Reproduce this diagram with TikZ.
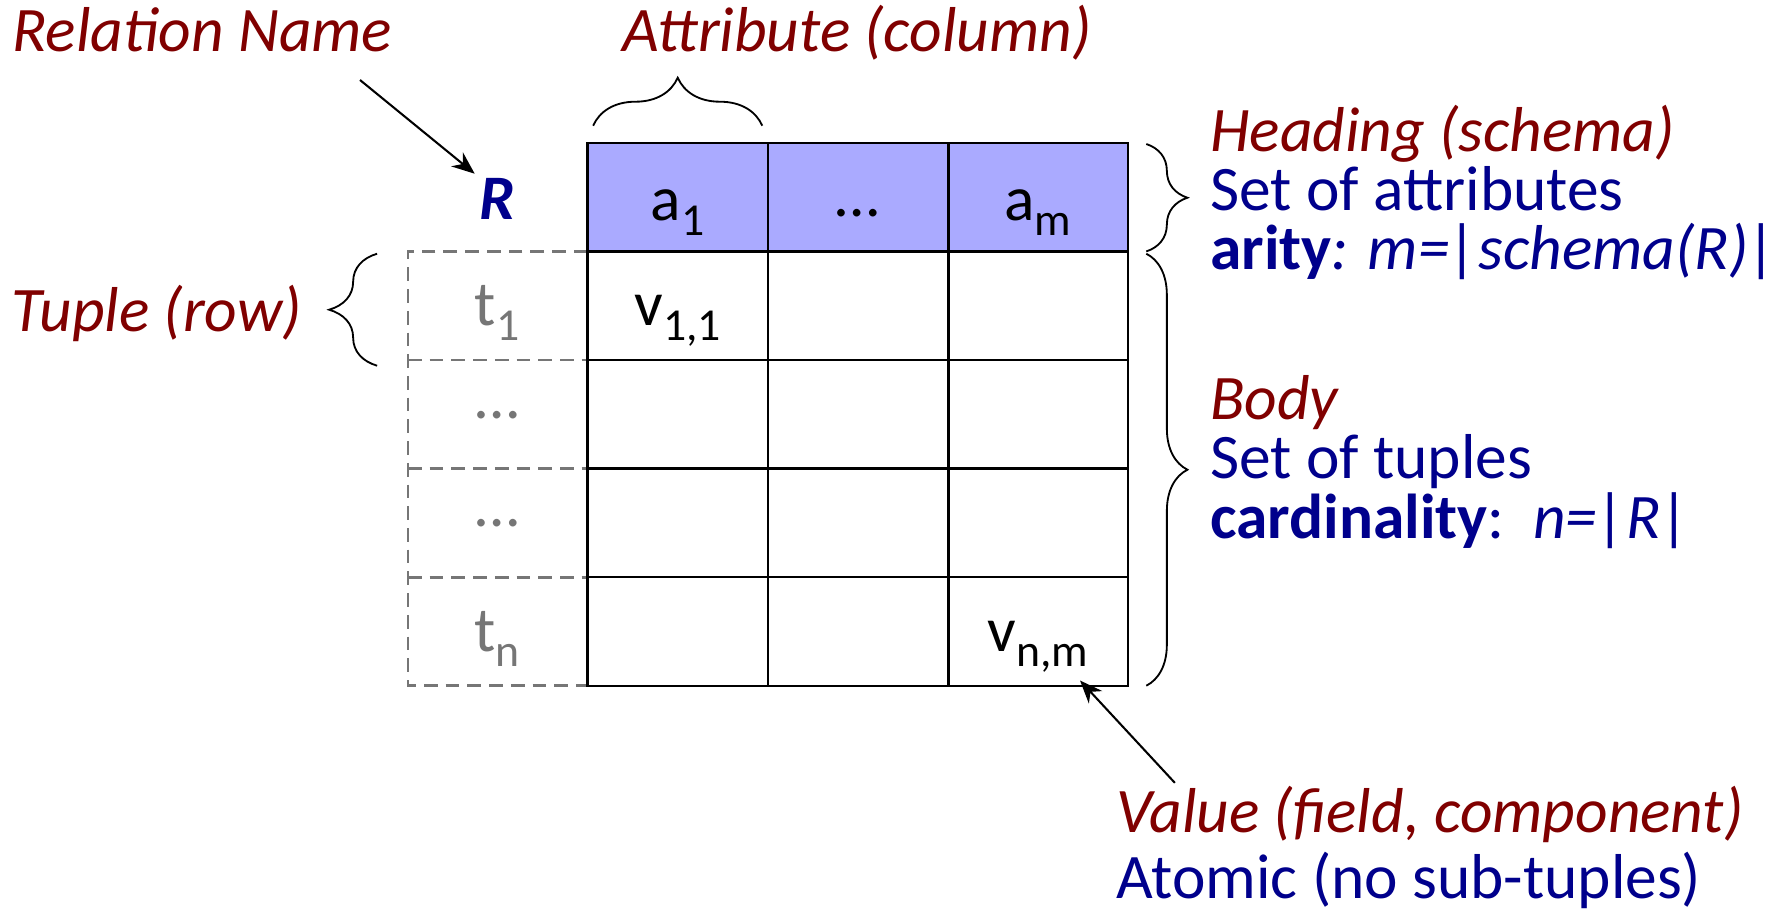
\documentclass[tikz,border=0pt]{standalone}
\usepackage{fontspec}
\setmainfont{Carlito}
\usetikzlibrary{arrows.meta,decorations.pathreplacing}
\definecolor{relred}{RGB}{128,0,0}
\definecolor{relblue}{RGB}{0,0,140}
\definecolor{headblue}{RGB}{170,170,255}
\definecolor{idgray}{RGB}{118,118,118}
\newcommand{\sbs}[1]{\raisebox{-0.24em}{\fontsize{20}{20}\selectfont #1}}

\begin{document}
\begin{tikzpicture}[x=0.5pt, y=-0.5pt, line width=1pt,
    txt/.style={font=\fontsize{27.75}{24}\selectfont, inner sep=0pt, anchor=base},
    lbl/.style={txt, text=relred, font=\fontsize{27.75}{24}\selectfont\itshape},
    note/.style={txt, text=relblue, anchor=base west},
    idtxt/.style={txt, text=idgray},
    idline/.style={idgray, line width=1.2pt, dash pattern=on 6pt off 3.5pt},
    brc/.style={decorate, decoration={brace, amplitude=#1}, line width=0.8pt},
    pointer/.style={-{Stealth[length=10pt,width=8pt]}, line width=0.9pt}]
    \useasboundingbox (0,0) rectangle (1568,797);
    % table
    \fill[headblue] (514,125) rectangle (987,220);
    \draw[idline] (514,220) -- (357,220) -- (357,600) -- (514,600);
    \foreach \y in {315,410,505} \draw[idline] (357,\y) -- (514,\y);
    \foreach \y in {220,315,410,505} \draw (514,\y) -- (987,\y);
    \foreach \x in {672,830} \draw (\x,125) -- (\x,600);
    \draw (514,125) rectangle (987,600);
    \node[txt, text=relblue, font=\fontsize{27.75}{24}\selectfont\bfseries\itshape] (R) at (435,192) {R};
    \node[txt] (a1) at (593,193) {a\sbs{1}};
    \node[txt] (adots) at (750,189) {…};
    \node[txt] (am) at (908,193) {a\sbs{m}};
    \node[idtxt] (t1) at (435,285) {t\sbs{1}};
    \node[idtxt] (tdots1) at (435,366) {…};
    \node[idtxt] (tdots2) at (435,461) {…};
    \node[idtxt] (tn) at (435,570) {t\sbs{n}};
    \node[txt] (v11) at (593,285) {v\sbs{1,1}};
    \node[txt] (vnm) at (908,570) {v\sbs{n,m}};
    % labels
    \node[lbl, anchor=base west] (relname) at (10,45) {Relation Name};
    \node[lbl] (attr) at (750,45) {Attribute (column)};
    \node[lbl, anchor=base east] (tuple) at (265,290) {Tuple (row)};
    \node[lbl, anchor=base west] (heading) at (1058,133) {Heading (schema)};
    \node[note] (headset) at (1058,184) {Set of attributes};
    \node[note] (arity) at (1058,236) {\textbf{arity}\textit{: m=|schema(R)|}};
    \node[lbl, anchor=base west] (body) at (1058,367) {Body};
    \node[note] (bodyset) at (1058,419) {Set of tuples};
    \node[note] (card) at (1058,471) {\textbf{cardinality}:~~\textit{n=|R|}};
    \node[lbl, anchor=base west] (val) at (976,728) {Value (field, component)};
    \node[note] (atomic) at (976,786) {Atomic (no sub-tuples)};
    % braces
    \draw[brc=21pt] (519,110) -- (667,110);
    \draw[brc=21pt] (330,320) -- (330,222);
    \draw[brc=18pt] (1003,126) -- (1003,220);
    \draw[brc=18pt] (1003,222) -- (1003,600);
    % pointers
    \coordinate (rnfoot) at (315,70);
    \coordinate (valfoot) at (1028,685);
    \draw[pointer] (rnfoot) -- ([shift={(-3,-3)}]R.north west);
    \draw[pointer] (valfoot) -- ([shift={(-8,6)}]vnm.south east);
\end{tikzpicture}
\end{document}
